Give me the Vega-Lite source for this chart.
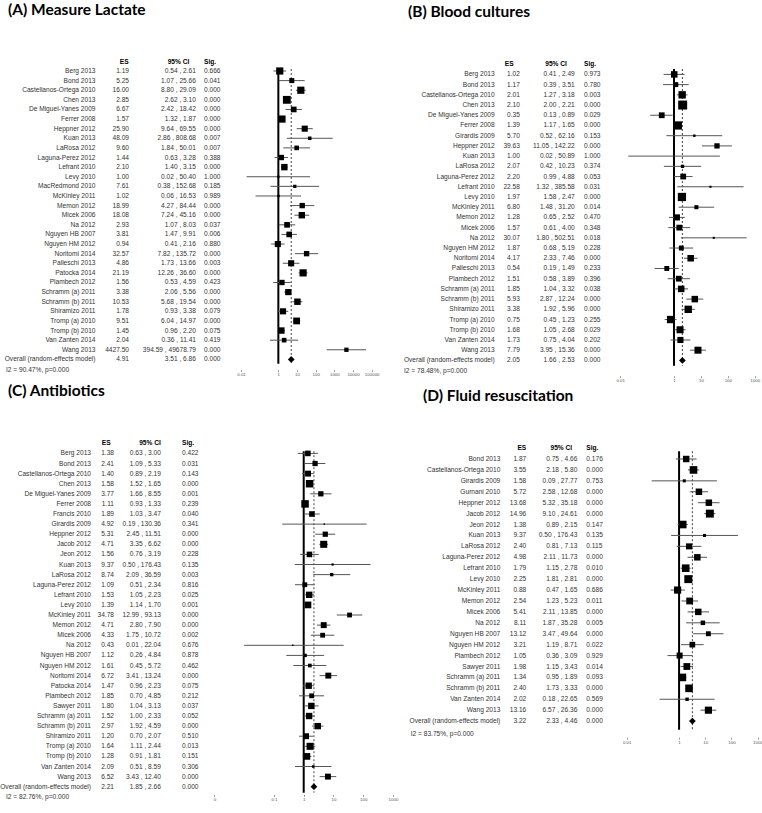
{
"$schema": "https://vega.github.io/schema/vega-lite/v6.json",
"padding": {"top": 3, "left": 0, "right": 0, "bottom": 0},
"background": "white",
"bounds": "flush",
"columns": 4,
"align": "each",
"spacing": {"row": 85.2, "column": 0},
"config": {
 "view": {"stroke": null},
 "text": {"font": "Liberation Sans", "fontSize": 6.6, "fill": "#333", "baseline": "middle"},
 "axis": {"domain": false, "grid": false, "title": null, "ticks": true, "tickSize": 2, "tickColor": "#999", "labelFont": "Liberation Sans", "labelFontSize": 4.4, "labelColor": "#555", "labelPadding": 1},
 "title": {"font": "Lato", "fontSize": 15.5, "fontWeight": "bold", "color": "black", "anchor": "start", "frame": "group", "offset": 40}
},
"datasets": {
 "head": [{"es": "ES", "ci": "95% CI", "sig": "Sig."}],
 "i2": [
  {"panel": "A", "text": "I2 = 90.47%, p=0.000"},
  {"panel": "B", "text": "I2 = 78.48%, p=0.000"},
  {"panel": "C", "text": "I2 = 82.76%, p=0.000"},
  {"panel": "D", "text": "I2 = 83.75%, p=0.000"}
 ],
 "nullref": [{"no_effect": 1}],
 "A": [
  {"study": "Berg 2013", "es": 1.19, "lo": 0.54, "hi": 2.61, "ci": "0.54 , 2.61", "p": 0.666, "w": 5.17, "kind": "study"},
  {"study": "Bond 2013", "es": 5.25, "lo": 1.07, "hi": 25.66, "ci": "1.07 , 25.66", "p": 0.041, "w": 2.53, "kind": "study"},
  {"study": "Castellanos-Ortega 2010", "es": 16.00, "lo": 8.80, "hi": 29.09, "ci": "8.80 , 29.09", "p": 0.000, "w": 5.17, "kind": "study"},
  {"study": "Chen 2013", "es": 2.85, "lo": 2.62, "hi": 3.10, "ci": "2.62 , 3.10", "p": 0.000, "w": 6.14, "kind": "study"},
  {"study": "De Miguel-Yanes 2009", "es": 6.67, "lo": 2.42, "hi": 18.42, "ci": "2.42 , 18.42", "p": 0.000, "w": 3.22, "kind": "study"},
  {"study": "Ferrer 2008", "es": 1.57, "lo": 1.32, "hi": 1.87, "ci": "1.32 , 1.87", "p": 0.000, "w": 5.17, "kind": "study"},
  {"study": "Heppner 2012", "es": 25.90, "lo": 9.64, "hi": 69.55, "ci": "9.64 , 69.55", "p": 0.000, "w": 3.74, "kind": "study"},
  {"study": "Kuan 2013", "es": 48.09, "lo": 2.86, "hi": 808.68, "ci": "2.86 , 808.68", "p": 0.007, "w": 1.25, "kind": "study"},
  {"study": "LaRosa 2012", "es": 9.60, "lo": 1.84, "hi": 50.01, "ci": "1.84 , 50.01", "p": 0.007, "w": 2.13, "kind": "study"},
  {"study": "Laguna-Perez 2012", "es": 1.44, "lo": 0.63, "hi": 3.28, "ci": "0.63 , 3.28", "p": 0.388, "w": 2.88, "kind": "study"},
  {"study": "Lefrant 2010", "es": 2.10, "lo": 1.40, "hi": 3.15, "ci": "1.40 , 3.15", "p": 0.000, "w": 4.14, "kind": "study"},
  {"study": "Levy 2010", "es": 1.00, "lo": 0.02, "hi": 50.40, "ci": "0.02 , 50.40", "p": 1.000, "w": 0.61, "kind": "study"},
  {"study": "MacRedmond 2010", "es": 7.61, "lo": 0.38, "hi": 152.68, "ci": "0.38 , 152.68", "p": 0.185, "w": 1.04, "kind": "study"},
  {"study": "McKinley 2011", "es": 1.02, "lo": 0.06, "hi": 16.53, "ci": "0.06 , 16.53", "p": 0.989, "w": 0.61, "kind": "study"},
  {"study": "Memon 2012", "es": 18.99, "lo": 4.27, "hi": 84.44, "ci": "4.27 , 84.44", "p": 0.000, "w": 2.88, "kind": "study"},
  {"study": "Micek 2006", "es": 18.08, "lo": 7.24, "hi": 45.16, "ci": "7.24 , 45.16", "p": 0.000, "w": 4.14, "kind": "study"},
  {"study": "Na 2012", "es": 2.93, "lo": 1.07, "hi": 8.03, "ci": "1.07 , 8.03", "p": 0.037, "w": 3.22, "kind": "study"},
  {"study": "Nguyen HB 2007", "es": 3.81, "lo": 1.47, "hi": 9.91, "ci": "1.47 , 9.91", "p": 0.006, "w": 3.22, "kind": "study"},
  {"study": "Nguyen HM 2012", "es": 0.94, "lo": 0.41, "hi": 2.16, "ci": "0.41 , 2.16", "p": 0.880, "w": 3.74, "kind": "study"},
  {"study": "Noritomi 2014", "es": 32.57, "lo": 7.82, "hi": 135.72, "ci": "7.82 , 135.72", "p": 0.000, "w": 2.88, "kind": "study"},
  {"study": "Palleschi 2013", "es": 4.86, "lo": 1.73, "hi": 13.66, "ci": "1.73 , 13.66", "p": 0.003, "w": 3.74, "kind": "study"},
  {"study": "Patocka 2014", "es": 21.19, "lo": 12.26, "hi": 36.60, "ci": "12.26 , 36.60", "p": 0.000, "w": 5.17, "kind": "study"},
  {"study": "Plambech 2012", "es": 1.56, "lo": 0.53, "hi": 4.59, "ci": "0.53 , 4.59", "p": 0.423, "w": 2.88, "kind": "study"},
  {"study": "Schramm (a) 2011", "es": 3.38, "lo": 2.06, "hi": 5.56, "ci": "2.06 , 5.56", "p": 0.000, "w": 3.74, "kind": "study"},
  {"study": "Schramm (b) 2011", "es": 10.53, "lo": 5.68, "hi": 19.54, "ci": "5.68 , 19.54", "p": 0.000, "w": 4.14, "kind": "study"},
  {"study": "Shiramizo 2011", "es": 1.78, "lo": 0.93, "hi": 3.38, "ci": "0.93 , 3.38", "p": 0.079, "w": 3.74, "kind": "study"},
  {"study": "Tromp (a) 2010", "es": 9.51, "lo": 6.04, "hi": 14.97, "ci": "6.04 , 14.97", "p": 0.000, "w": 4.57, "kind": "study"},
  {"study": "Tromp (b) 2010", "es": 1.45, "lo": 0.96, "hi": 2.20, "ci": "0.96 , 2.20", "p": 0.075, "w": 4.14, "kind": "study"},
  {"study": "Van Zanten 2014", "es": 2.04, "lo": 0.36, "hi": 11.41, "ci": "0.36 , 11.41", "p": 0.419, "w": 2.13, "kind": "study"},
  {"study": "Wang 2013", "es": 4427.50, "lo": 394.59, "hi": 49678.79, "ci": "394.59 , 49678.79", "p": 0.000, "w": 1.84, "kind": "study"},
  {"study": "Overall (random-effects model)", "es": 4.91, "lo": 3.51, "hi": 6.86, "ci": "3.51 , 6.86", "p": 0.000, "kind": "overall"}
 ],
 "B": [
  {"study": "Berg 2013", "es": 1.02, "lo": 0.41, "hi": 2.49, "ci": "0.41 , 2.49", "p": 0.973, "w": 4.24, "kind": "study"},
  {"study": "Bond 2013", "es": 1.17, "lo": 0.39, "hi": 3.51, "ci": "0.39 , 3.51", "p": 0.780, "w": 2.42, "kind": "study"},
  {"study": "Castellanos-Ortega 2010", "es": 2.01, "lo": 1.27, "hi": 3.18, "ci": "1.27 , 3.18", "p": 0.003, "w": 5.43, "kind": "study"},
  {"study": "Chen 2013", "es": 2.10, "lo": 2.00, "hi": 2.21, "ci": "2.00 , 2.21", "p": 0.000, "w": 8.05, "kind": "study"},
  {"study": "De Miguel-Yanes 2009", "es": 0.35, "lo": 0.13, "hi": 0.89, "ci": "0.13 , 0.89", "p": 0.029, "w": 3.34, "kind": "study"},
  {"study": "Ferrer 2008", "es": 1.39, "lo": 1.17, "hi": 1.65, "ci": "1.17 , 1.65", "p": 0.000, "w": 6.78, "kind": "study"},
  {"study": "Girardis 2009", "es": 5.70, "lo": 0.52, "hi": 62.16, "ci": "0.52 , 62.16", "p": 0.153, "w": 0.60, "kind": "study"},
  {"study": "Heppner 2012", "es": 39.63, "lo": 11.05, "hi": 142.22, "ci": "11.05 , 142.22", "p": 0.000, "w": 2.79, "kind": "study"},
  {"study": "Kuan 2013", "es": 1.00, "lo": 0.02, "hi": 50.89, "ci": "0.02 , 50.89", "p": 1.000, "w": 0.15, "kind": "study"},
  {"study": "LaRosa 2012", "es": 2.07, "lo": 0.42, "hi": 10.23, "ci": "0.42 , 10.23", "p": 0.374, "w": 1.10, "kind": "study"},
  {"study": "Laguna-Perez 2012", "es": 2.20, "lo": 0.99, "hi": 4.88, "ci": "0.99 , 4.88", "p": 0.053, "w": 3.34, "kind": "study"},
  {"study": "Lefrant 2010", "es": 22.58, "lo": 1.32, "hi": 385.58, "ci": "1.32 , 385.58", "p": 0.031, "w": 0.44, "kind": "study"},
  {"study": "Levy 2010", "es": 1.97, "lo": 1.58, "hi": 2.47, "ci": "1.58 , 2.47", "p": 0.000, "w": 6.78, "kind": "study"},
  {"study": "McKinley 2011", "es": 6.80, "lo": 1.48, "hi": 31.20, "ci": "1.48 , 31.20", "p": 0.014, "w": 1.65, "kind": "study"},
  {"study": "Memon 2012", "es": 1.28, "lo": 0.65, "hi": 2.52, "ci": "0.65 , 2.52", "p": 0.470, "w": 3.77, "kind": "study"},
  {"study": "Micek 2006", "es": 1.57, "lo": 0.61, "hi": 4.00, "ci": "0.61 , 4.00", "p": 0.348, "w": 3.34, "kind": "study"},
  {"study": "Na 2012", "es": 30.07, "lo": 1.80, "hi": 502.51, "ci": "1.80 , 502.51", "p": 0.018, "w": 0.44, "kind": "study"},
  {"study": "Nguyen HM 2012", "es": 1.87, "lo": 0.68, "hi": 5.19, "ci": "0.68 , 5.19", "p": 0.228, "w": 2.42, "kind": "study"},
  {"study": "Noritomi 2014", "es": 4.17, "lo": 2.33, "hi": 7.46, "ci": "2.33 , 7.46", "p": 0.000, "w": 4.24, "kind": "study"},
  {"study": "Palleschi 2013", "es": 0.54, "lo": 0.19, "hi": 1.49, "ci": "0.19 , 1.49", "p": 0.233, "w": 2.42, "kind": "study"},
  {"study": "Plambech 2012", "es": 1.51, "lo": 0.58, "hi": 3.89, "ci": "0.58 , 3.89", "p": 0.396, "w": 3.34, "kind": "study"},
  {"study": "Schramm (a) 2011", "es": 1.85, "lo": 1.04, "hi": 3.32, "ci": "1.04 , 3.32", "p": 0.038, "w": 4.24, "kind": "study"},
  {"study": "Schramm (b) 2011", "es": 5.93, "lo": 2.87, "hi": 12.24, "ci": "2.87 , 12.24", "p": 0.000, "w": 4.24, "kind": "study"},
  {"study": "Shiramizo 2011", "es": 3.38, "lo": 1.92, "hi": 5.96, "ci": "1.92 , 5.96", "p": 0.000, "w": 5.43, "kind": "study"},
  {"study": "Tromp (a) 2010", "es": 0.75, "lo": 0.45, "hi": 1.23, "ci": "0.45 , 1.23", "p": 0.255, "w": 5.43, "kind": "study"},
  {"study": "Tromp (b) 2010", "es": 1.68, "lo": 1.05, "hi": 2.68, "ci": "1.05 , 2.68", "p": 0.029, "w": 4.91, "kind": "study"},
  {"study": "Van Zanten 2014", "es": 1.73, "lo": 0.75, "hi": 4.04, "ci": "0.75 , 4.04", "p": 0.202, "w": 3.77, "kind": "study"},
  {"study": "Wang 2013", "es": 7.79, "lo": 3.95, "hi": 15.36, "ci": "3.95 , 15.36", "p": 0.000, "w": 4.91, "kind": "study"},
  {"study": "Overall (random-effects model)", "es": 2.05, "lo": 1.66, "hi": 2.53, "ci": "1.66 , 2.53", "p": 0.000, "kind": "overall"}
 ],
 "C": [
  {"study": "Berg 2013", "es": 1.38, "lo": 0.63, "hi": 3.00, "ci": "0.63 , 3.00", "p": 0.422, "w": 3.12, "kind": "study"},
  {"study": "Bond 2013", "es": 2.41, "lo": 1.09, "hi": 5.33, "ci": "1.09 , 5.33", "p": 0.031, "w": 2.76, "kind": "study"},
  {"study": "Castellanos-Ortega 2010", "es": 1.40, "lo": 0.89, "hi": 2.19, "ci": "0.89 , 2.19", "p": 0.143, "w": 3.51, "kind": "study"},
  {"study": "Chen 2013", "es": 1.58, "lo": 1.52, "hi": 1.65, "ci": "1.52 , 1.65", "p": 0.000, "w": 5.61, "kind": "study"},
  {"study": "De Miguel-Yanes 2009", "es": 3.77, "lo": 1.66, "hi": 8.55, "ci": "1.66 , 8.55", "p": 0.001, "w": 2.76, "kind": "study"},
  {"study": "Ferrer 2008", "es": 1.11, "lo": 0.93, "hi": 1.33, "ci": "0.93 , 1.33", "p": 0.239, "w": 5.61, "kind": "study"},
  {"study": "Francis 2010", "es": 1.89, "lo": 1.03, "hi": 3.47, "ci": "1.03 , 3.47", "p": 0.040, "w": 3.12, "kind": "study"},
  {"study": "Girardis 2009", "es": 4.92, "lo": 0.19, "hi": 130.36, "ci": "0.19 , 130.36", "p": 0.341, "w": 0.21, "kind": "study"},
  {"study": "Heppner 2012", "es": 5.31, "lo": 2.45, "hi": 11.51, "ci": "2.45 , 11.51", "p": 0.000, "w": 2.76, "kind": "study"},
  {"study": "Jacob 2012", "es": 4.71, "lo": 3.35, "hi": 6.62, "ci": "3.35 , 6.62", "p": 0.000, "w": 4.96, "kind": "study"},
  {"study": "Jeon 2012", "es": 1.56, "lo": 0.76, "hi": 3.19, "ci": "0.76 , 3.19", "p": 0.228, "w": 3.12, "kind": "study"},
  {"study": "Kuan 2013", "es": 9.37, "lo": 0.50, "hi": 176.43, "ci": "0.50 , 176.43", "p": 0.135, "w": 0.50, "kind": "study"},
  {"study": "LaRosa 2012", "es": 8.74, "lo": 2.09, "hi": 36.59, "ci": "2.09 , 36.59", "p": 0.003, "w": 1.12, "kind": "study"},
  {"study": "Laguna-Perez 2012", "es": 1.09, "lo": 0.51, "hi": 2.34, "ci": "0.51 , 2.34", "p": 0.816, "w": 2.31, "kind": "study"},
  {"study": "Lefrant 2010", "es": 1.53, "lo": 1.05, "hi": 2.23, "ci": "1.05 , 2.23", "p": 0.025, "w": 4.06, "kind": "study"},
  {"study": "Levy 2010", "es": 1.39, "lo": 1.14, "hi": 1.70, "ci": "1.14 , 1.70", "p": 0.001, "w": 4.49, "kind": "study"},
  {"study": "McKinley 2011", "es": 34.78, "lo": 12.99, "hi": 93.13, "ci": "12.99 , 93.13", "p": 0.000, "w": 2.31, "kind": "study"},
  {"study": "Memon 2012", "es": 4.71, "lo": 2.80, "hi": 7.90, "ci": "2.80 , 7.90", "p": 0.000, "w": 3.51, "kind": "study"},
  {"study": "Micek 2006", "es": 4.33, "lo": 1.75, "hi": 10.72, "ci": "1.75 , 10.72", "p": 0.002, "w": 2.31, "kind": "study"},
  {"study": "Na 2012", "es": 0.43, "lo": 0.01, "hi": 22.04, "ci": "0.01 , 22.04", "p": 0.676, "w": 0.21, "kind": "study"},
  {"study": "Nguyen HB 2007", "es": 1.12, "lo": 0.26, "hi": 4.84, "ci": "0.26 , 4.84", "p": 0.878, "w": 1.12, "kind": "study"},
  {"study": "Nguyen HM 2012", "es": 1.61, "lo": 0.45, "hi": 5.72, "ci": "0.45 , 5.72", "p": 0.462, "w": 1.36, "kind": "study"},
  {"study": "Noritomi 2014", "es": 6.72, "lo": 3.41, "hi": 13.24, "ci": "3.41 , 13.24", "p": 0.000, "w": 3.51, "kind": "study"},
  {"study": "Patocka 2014", "es": 1.47, "lo": 0.96, "hi": 2.23, "ci": "0.96 , 2.23", "p": 0.075, "w": 4.06, "kind": "study"},
  {"study": "Plambech 2012", "es": 1.85, "lo": 0.70, "hi": 4.85, "ci": "0.70 , 4.85", "p": 0.212, "w": 2.31, "kind": "study"},
  {"study": "Sawyer 2011", "es": 1.80, "lo": 1.04, "hi": 3.13, "ci": "1.04 , 3.13", "p": 0.037, "w": 4.06, "kind": "study"},
  {"study": "Schramm (a) 2011", "es": 1.52, "lo": 1.00, "hi": 2.33, "ci": "1.00 , 2.33", "p": 0.052, "w": 4.06, "kind": "study"},
  {"study": "Schramm (b) 2011", "es": 2.97, "lo": 1.92, "hi": 4.59, "ci": "1.92 , 4.59", "p": 0.000, "w": 4.06, "kind": "study"},
  {"study": "Shiramizo 2011", "es": 1.20, "lo": 0.70, "hi": 2.07, "ci": "0.70 , 2.07", "p": 0.510, "w": 3.51, "kind": "study"},
  {"study": "Tromp (a) 2010", "es": 1.64, "lo": 1.11, "hi": 2.44, "ci": "1.11 , 2.44", "p": 0.013, "w": 4.96, "kind": "study"},
  {"study": "Tromp (b) 2010", "es": 1.28, "lo": 0.91, "hi": 1.81, "ci": "0.91 , 1.81", "p": 0.151, "w": 4.49, "kind": "study"},
  {"study": "Van Zanten 2014", "es": 2.09, "lo": 0.51, "hi": 8.59, "ci": "0.51 , 8.59", "p": 0.306, "w": 0.66, "kind": "study"},
  {"study": "Wang 2013", "es": 6.52, "lo": 3.43, "hi": 12.40, "ci": "3.43 , 12.40", "p": 0.000, "w": 3.51, "kind": "study"},
  {"study": "Overall (random-effects model)", "es": 2.21, "lo": 1.85, "hi": 2.66, "ci": "1.85 , 2.66", "p": 0.000, "kind": "overall"}
 ],
 "D": [
  {"study": "Bond 2013", "es": 1.87, "lo": 0.75, "hi": 4.66, "ci": "0.75 , 4.66", "p": 0.176, "w": 4.19, "kind": "study"},
  {"study": "Castellanos-Ortega 2010", "es": 3.55, "lo": 2.18, "hi": 5.80, "ci": "2.18 , 5.80", "p": 0.000, "w": 5.79, "kind": "study"},
  {"study": "Girardis 2009", "es": 1.58, "lo": 0.09, "hi": 27.77, "ci": "0.09 , 27.77", "p": 0.753, "w": 0.94, "kind": "study"},
  {"study": "Gurnani 2010", "es": 5.72, "lo": 2.58, "hi": 12.68, "ci": "2.58 , 12.68", "p": 0.000, "w": 4.19, "kind": "study"},
  {"study": "Heppner 2012", "es": 13.68, "lo": 5.32, "hi": 35.18, "ci": "5.32 , 35.18", "p": 0.000, "w": 4.19, "kind": "study"},
  {"study": "Jacob 2012", "es": 14.96, "lo": 9.10, "hi": 24.61, "ci": "9.10 , 24.61", "p": 0.000, "w": 6.32, "kind": "study"},
  {"study": "Jeon 2012", "es": 1.38, "lo": 0.89, "hi": 2.15, "ci": "0.89 , 2.15", "p": 0.147, "w": 5.79, "kind": "study"},
  {"study": "Kuan 2013", "es": 9.37, "lo": 0.50, "hi": 176.43, "ci": "0.50 , 176.43", "p": 0.135, "w": 0.94, "kind": "study"},
  {"study": "LaRosa 2012", "es": 2.40, "lo": 0.81, "hi": 7.13, "ci": "0.81 , 7.13", "p": 0.115, "w": 3.62, "kind": "study"},
  {"study": "Laguna-Perez 2012", "es": 4.98, "lo": 2.11, "hi": 11.73, "ci": "2.11 , 11.73", "p": 0.000, "w": 4.19, "kind": "study"},
  {"study": "Lefrant 2010", "es": 1.79, "lo": 1.15, "hi": 2.78, "ci": "1.15 , 2.78", "p": 0.010, "w": 5.79, "kind": "study"},
  {"study": "Levy 2010", "es": 2.25, "lo": 1.81, "hi": 2.81, "ci": "1.81 , 2.81", "p": 0.000, "w": 6.32, "kind": "study"},
  {"study": "McKinley 2011", "es": 0.88, "lo": 0.47, "hi": 1.65, "ci": "0.47 , 1.65", "p": 0.686, "w": 5.12, "kind": "study"},
  {"study": "Memon 2012", "es": 2.54, "lo": 1.23, "hi": 5.23, "ci": "1.23 , 5.23", "p": 0.011, "w": 4.64, "kind": "study"},
  {"study": "Micek 2006", "es": 5.41, "lo": 2.11, "hi": 13.85, "ci": "2.11 , 13.85", "p": 0.000, "w": 4.19, "kind": "study"},
  {"study": "Na 2012", "es": 8.11, "lo": 1.87, "hi": 35.28, "ci": "1.87 , 35.28", "p": 0.005, "w": 2.06, "kind": "study"},
  {"study": "Nguyen HB 2007", "es": 13.12, "lo": 3.47, "hi": 49.64, "ci": "3.47 , 49.64", "p": 0.000, "w": 2.38, "kind": "study"},
  {"study": "Nguyen HM 2012", "es": 3.21, "lo": 1.19, "hi": 8.71, "ci": "1.19 , 8.71", "p": 0.022, "w": 3.22, "kind": "study"},
  {"study": "Plambech 2012", "es": 1.05, "lo": 0.36, "hi": 3.09, "ci": "0.36 , 3.09", "p": 0.929, "w": 3.62, "kind": "study"},
  {"study": "Sawyer 2011", "es": 1.98, "lo": 1.15, "hi": 3.43, "ci": "1.15 , 3.43", "p": 0.014, "w": 4.64, "kind": "study"},
  {"study": "Schramm (a) 2011", "es": 1.34, "lo": 0.95, "hi": 1.89, "ci": "0.95 , 1.89", "p": 0.093, "w": 5.79, "kind": "study"},
  {"study": "Schramm (b) 2011", "es": 2.40, "lo": 1.73, "hi": 3.33, "ci": "1.73 , 3.33", "p": 0.000, "w": 5.79, "kind": "study"},
  {"study": "Van Zanten 2014", "es": 2.02, "lo": 0.18, "hi": 22.65, "ci": "0.18 , 22.65", "p": 0.569, "w": 1.16, "kind": "study"},
  {"study": "Wang 2013", "es": 13.16, "lo": 6.57, "hi": 26.36, "ci": "6.57 , 26.36", "p": 0.000, "w": 5.12, "kind": "study"},
  {"study": "Overall (random-effects model)", "es": 3.22, "lo": 2.33, "hi": 4.46, "ci": "2.33 , 4.46", "p": 0.000, "kind": "overall"}
 ]
},
"concat": [
 {
  "width": 205, "height": 294.7,
  "title": {"text": "(A) Measure Lactate", "dx": 5},
  "data": {"name": "A"},
  "encoding": {
   "y": {"field": "study", "type": "nominal", "axis": null, "scale": {"type": "point", "round": false, "padding": 0.328, "align": 0.317, "domain": ["Berg 2013","Bond 2013","Castellanos-Ortega 2010","Chen 2013","De Miguel-Yanes 2009","Ferrer 2008","Heppner 2012","Kuan 2013","LaRosa 2012","Laguna-Perez 2012","Lefrant 2010","Levy 2010","MacRedmond 2010","McKinley 2011","Memon 2012","Micek 2006","Na 2012","Nguyen HB 2007","Nguyen HM 2012","Noritomi 2014","Palleschi 2013","Patocka 2014","Plambech 2012","Schramm (a) 2011","Schramm (b) 2011","Shiramizo 2011","Tromp (a) 2010","Tromp (b) 2010","Van Zanten 2014","Wang 2013","Overall (random-effects model)"]}},
   "x": {"datum": "name", "type": "nominal", "axis": null, "scale": {"type": "point", "round": false, "padding": 0, "domain": ["name", "ES", "CI", "Sig"]}}
  },
  "layer": [
   {"mark": {"type": "text", "align": "right", "dx": 92.5}, "encoding": {"text": {"field": "study"}}},
   {"mark": {"type": "text", "align": "right", "dx": 57.7}, "encoding": {"x": {"datum": "ES", "type": "nominal"}, "text": {"field": "es", "type": "quantitative", "format": ".2f"}}},
   {"mark": {"type": "text", "align": "right", "dx": 56.3}, "encoding": {"x": {"datum": "CI", "type": "nominal"}, "text": {"field": "ci"}}},
   {"mark": {"type": "text", "align": "left", "dx": -4}, "encoding": {"x": {"datum": "Sig", "type": "nominal"}, "text": {"field": "p", "type": "quantitative", "format": ".3f"}}},
   {"data": {"name": "head"}, "mark": {"type": "text", "align": "right", "dx": 57.2, "dy": -9.3, "fontWeight": "bold", "fill": "black"}, "encoding": {"x": {"datum": "ES", "type": "nominal"}, "y": {"datum": "Berg 2013", "type": "nominal"}, "text": {"field": "es"}}},
   {"data": {"name": "head"}, "mark": {"type": "text", "align": "center", "dx": 38.8, "dy": -9.3, "fontWeight": "bold", "fill": "black"}, "encoding": {"x": {"datum": "CI", "type": "nominal"}, "y": {"datum": "Berg 2013", "type": "nominal"}, "text": {"field": "ci"}}},
   {"data": {"name": "head"}, "mark": {"type": "text", "align": "left", "dx": -4, "dy": -9.3, "fontWeight": "bold", "fill": "black"}, "encoding": {"x": {"datum": "Sig", "type": "nominal"}, "y": {"datum": "Berg 2013", "type": "nominal"}, "text": {"field": "sig"}}},
   {"data": {"name": "i2"}, "transform": [{"filter": "datum.panel === 'A'"}], "mark": {"type": "text", "align": "left", "dx": 3, "dy": 10.3}, "encoding": {"y": {"datum": "Overall (random-effects model)", "type": "nominal"}, "text": {"field": "text"}}}
  ]
 },
 {
  "width": 187, "height": 294.7,
  "data": {"name": "A"},
  "layer": [
   {"data": {"name": "nullref"}, "mark": {"type": "rule", "color": "black", "strokeWidth": 2}, "encoding": {"x": {"field": "no_effect", "type": "quantitative", "scale": {"type": "log", "nice": false, "domain": [0.0001708, 1772000]}, "axis": {"values": [0.01, 1, 10, 100, 1000, 10000, 100000], "format": ".2~f", "offset": 6}}}},
   {"transform": [{"filter": "datum.kind === 'overall'"}], "mark": {"type": "rule", "color": "#444", "strokeWidth": 1, "strokeDash": [2, 2]}, "encoding": {"x": {"field": "es", "type": "quantitative"}}},
   {"transform": [{"filter": "datum.kind === 'study'"}], "mark": {"type": "rule", "color": "#555", "strokeWidth": 1}, "encoding": {"x": {"field": "lo", "type": "quantitative"}, "x2": {"field": "hi"}, "y": {"field": "study", "type": "nominal", "axis": null, "scale": {"type": "point", "round": false, "padding": 0.328, "align": 0.317, "domain": ["Berg 2013","Bond 2013","Castellanos-Ortega 2010","Chen 2013","De Miguel-Yanes 2009","Ferrer 2008","Heppner 2012","Kuan 2013","LaRosa 2012","Laguna-Perez 2012","Lefrant 2010","Levy 2010","MacRedmond 2010","McKinley 2011","Memon 2012","Micek 2006","Na 2012","Nguyen HB 2007","Nguyen HM 2012","Noritomi 2014","Palleschi 2013","Patocka 2014","Plambech 2012","Schramm (a) 2011","Schramm (b) 2011","Shiramizo 2011","Tromp (a) 2010","Tromp (b) 2010","Van Zanten 2014","Wang 2013","Overall (random-effects model)"]}}}},
   {"transform": [{"filter": "datum.kind === 'study'"}], "mark": {"type": "point", "shape": "square", "filled": true, "color": "black", "opacity": 1}, "encoding": {"x": {"field": "es", "type": "quantitative"}, "y": {"field": "study", "type": "nominal"}, "size": {"field": "w", "type": "quantitative", "legend": null, "scale": {"domain": [0, 10], "range": [0, 100]}}}},
   {"transform": [{"filter": "datum.kind === 'overall'"}], "mark": {"type": "point", "shape": "diamond", "filled": true, "color": "black", "opacity": 1, "size": 45}, "encoding": {"x": {"field": "es", "type": "quantitative"}, "y": {"field": "study", "type": "nominal"}}}
  ]
 },
 {
  "width": 218, "height": 296.7,
  "title": {"text": "(B) Blood cultures", "dx": 13},
  "data": {"name": "B"},
  "encoding": {
   "y": {"field": "study", "type": "nominal", "axis": null, "scale": {"type": "point", "round": false, "padding": 0.524, "align": 0.505, "domain": ["Berg 2013","Bond 2013","Castellanos-Ortega 2010","Chen 2013","De Miguel-Yanes 2009","Ferrer 2008","Girardis 2009","Heppner 2012","Kuan 2013","LaRosa 2012","Laguna-Perez 2012","Lefrant 2010","Levy 2010","McKinley 2011","Memon 2012","Micek 2006","Na 2012","Nguyen HM 2012","Noritomi 2014","Palleschi 2013","Plambech 2012","Schramm (a) 2011","Schramm (b) 2011","Shiramizo 2011","Tromp (a) 2010","Tromp (b) 2010","Van Zanten 2014","Wang 2013","Overall (random-effects model)"]}},
   "x": {"datum": "name", "type": "nominal", "axis": null, "scale": {"type": "point", "round": false, "padding": 0, "domain": ["name", "ES", "CI", "Sig"]}}
  },
  "layer": [
   {"mark": {"type": "text", "align": "right", "dx": 99.7}, "encoding": {"text": {"field": "study"}}},
   {"mark": {"type": "text", "align": "right", "dx": 52.3}, "encoding": {"x": {"datum": "ES", "type": "nominal"}, "text": {"field": "es", "type": "quantitative", "format": ".2f"}}},
   {"mark": {"type": "text", "align": "right", "dx": 34.4}, "encoding": {"x": {"datum": "CI", "type": "nominal"}, "text": {"field": "ci"}}},
   {"mark": {"type": "text", "align": "left", "dx": -29}, "encoding": {"x": {"datum": "Sig", "type": "nominal"}, "text": {"field": "p", "type": "quantitative", "format": ".3f"}}},
   {"data": {"name": "head"}, "mark": {"type": "text", "align": "right", "dx": 46, "dy": -10.7, "fontWeight": "bold", "fill": "black"}, "encoding": {"x": {"datum": "ES", "type": "nominal"}, "y": {"datum": "Berg 2013", "type": "nominal"}, "text": {"field": "es"}}},
   {"data": {"name": "head"}, "mark": {"type": "text", "align": "center", "dx": 15.7, "dy": -10.7, "fontWeight": "bold", "fill": "black"}, "encoding": {"x": {"datum": "CI", "type": "nominal"}, "y": {"datum": "Berg 2013", "type": "nominal"}, "text": {"field": "ci"}}},
   {"data": {"name": "head"}, "mark": {"type": "text", "align": "left", "dx": -29, "dy": -10.7, "fontWeight": "bold", "fill": "black"}, "encoding": {"x": {"datum": "Sig", "type": "nominal"}, "y": {"datum": "Berg 2013", "type": "nominal"}, "text": {"field": "sig"}}},
   {"data": {"name": "i2"}, "transform": [{"filter": "datum.panel === 'B'"}], "mark": {"type": "text", "align": "left", "dx": 9, "dy": 10.3}, "encoding": {"y": {"datum": "Overall (random-effects model)", "type": "nominal"}, "text": {"field": "text"}}}
  ]
 },
 {
  "width": 152, "height": 296.7,
  "data": {"name": "B"},
  "layer": [
   {"data": {"name": "nullref"}, "mark": {"type": "rule", "color": "black", "strokeWidth": 2}, "encoding": {"x": {"field": "no_effect", "type": "quantitative", "scale": {"type": "log", "nice": false, "domain": [0.005399, 2415]}, "axis": {"values": [0.01, 1, 10, 100, 1000], "format": ".2~f", "offset": 10}}}},
   {"transform": [{"filter": "datum.kind === 'overall'"}], "mark": {"type": "rule", "color": "#444", "strokeWidth": 1, "strokeDash": [2, 2]}, "encoding": {"x": {"field": "es", "type": "quantitative"}}},
   {"transform": [{"filter": "datum.kind === 'study'"}], "mark": {"type": "rule", "color": "#555", "strokeWidth": 1}, "encoding": {"x": {"field": "lo", "type": "quantitative"}, "x2": {"field": "hi"}, "y": {"field": "study", "type": "nominal", "axis": null, "scale": {"type": "point", "round": false, "padding": 0.524, "align": 0.505, "domain": ["Berg 2013","Bond 2013","Castellanos-Ortega 2010","Chen 2013","De Miguel-Yanes 2009","Ferrer 2008","Girardis 2009","Heppner 2012","Kuan 2013","LaRosa 2012","Laguna-Perez 2012","Lefrant 2010","Levy 2010","McKinley 2011","Memon 2012","Micek 2006","Na 2012","Nguyen HM 2012","Noritomi 2014","Palleschi 2013","Plambech 2012","Schramm (a) 2011","Schramm (b) 2011","Shiramizo 2011","Tromp (a) 2010","Tromp (b) 2010","Van Zanten 2014","Wang 2013","Overall (random-effects model)"]}}}},
   {"transform": [{"filter": "datum.kind === 'study'"}], "mark": {"type": "point", "shape": "square", "filled": true, "color": "black", "opacity": 1}, "encoding": {"x": {"field": "es", "type": "quantitative"}, "y": {"field": "study", "type": "nominal"}, "size": {"field": "w", "type": "quantitative", "legend": null, "scale": {"domain": [0, 10], "range": [0, 76]}}}},
   {"transform": [{"filter": "datum.kind === 'overall'"}], "mark": {"type": "point", "shape": "diamond", "filled": true, "color": "black", "opacity": 1, "size": 45}, "encoding": {"x": {"field": "es", "type": "quantitative"}, "y": {"field": "study", "type": "nominal"}}}
  ]
 },
 {
  "width": 205, "height": 341.5,
  "title": {"text": "(C) Antibiotics", "dx": 5},
  "data": {"name": "C"},
  "encoding": {
   "y": {"field": "study", "type": "nominal", "axis": null, "scale": {"type": "point", "round": false, "padding": 0.406, "align": 0.27, "domain": ["Berg 2013","Bond 2013","Castellanos-Ortega 2010","Chen 2013","De Miguel-Yanes 2009","Ferrer 2008","Francis 2010","Girardis 2009","Heppner 2012","Jacob 2012","Jeon 2012","Kuan 2013","LaRosa 2012","Laguna-Perez 2012","Lefrant 2010","Levy 2010","McKinley 2011","Memon 2012","Micek 2006","Na 2012","Nguyen HB 2007","Nguyen HM 2012","Noritomi 2014","Patocka 2014","Plambech 2012","Sawyer 2011","Schramm (a) 2011","Schramm (b) 2011","Shiramizo 2011","Tromp (a) 2010","Tromp (b) 2010","Van Zanten 2014","Wang 2013","Overall (random-effects model)"]}},
   "x": {"datum": "name", "type": "nominal", "axis": null, "scale": {"type": "point", "round": false, "padding": 0, "domain": ["name", "ES", "CI", "Sig"]}}
  },
  "layer": [
   {"mark": {"type": "text", "align": "right", "dx": 88}, "encoding": {"text": {"field": "study"}}},
   {"mark": {"type": "text", "align": "right", "dx": 42.7}, "encoding": {"x": {"datum": "ES", "type": "nominal"}, "text": {"field": "es", "type": "quantitative", "format": ".2f"}}},
   {"mark": {"type": "text", "align": "right", "dx": 21.3}, "encoding": {"x": {"datum": "CI", "type": "nominal"}, "text": {"field": "ci"}}},
   {"mark": {"type": "text", "align": "left", "dx": -26}, "encoding": {"x": {"datum": "Sig", "type": "nominal"}, "text": {"field": "p", "type": "quantitative", "format": ".3f"}}},
   {"data": {"name": "head"}, "mark": {"type": "text", "align": "right", "dx": 39.2, "dy": -10.7, "fontWeight": "bold", "fill": "black"}, "encoding": {"x": {"datum": "ES", "type": "nominal"}, "y": {"datum": "Berg 2013", "type": "nominal"}, "text": {"field": "es"}}},
   {"data": {"name": "head"}, "mark": {"type": "text", "align": "center", "dx": 10.3, "dy": -10.7, "fontWeight": "bold", "fill": "black"}, "encoding": {"x": {"datum": "CI", "type": "nominal"}, "y": {"datum": "Berg 2013", "type": "nominal"}, "text": {"field": "ci"}}},
   {"data": {"name": "head"}, "mark": {"type": "text", "align": "left", "dx": -26, "dy": -10.7, "fontWeight": "bold", "fill": "black"}, "encoding": {"x": {"datum": "Sig", "type": "nominal"}, "y": {"datum": "Berg 2013", "type": "nominal"}, "text": {"field": "sig"}}},
   {"data": {"name": "i2"}, "transform": [{"filter": "datum.panel === 'C'"}], "mark": {"type": "text", "align": "left", "dx": 3, "dy": 10}, "encoding": {"y": {"datum": "Overall (random-effects model)", "type": "nominal"}, "text": {"field": "text"}}}
  ]
 },
 {
  "width": 187, "height": 341.5,
  "data": {"name": "C"},
  "layer": [
   {"data": {"name": "nullref"}, "mark": {"type": "rule", "color": "black", "strokeWidth": 2}, "encoding": {"x": {"field": "no_effect", "type": "quantitative", "scale": {"type": "log", "nice": false, "domain": [0.0006068, 1172]}, "axis": {"values": [0.001, 0.1, 1, 10, 100, 1000], "format": ".2~f", "offset": 1.75}}}},
   {"transform": [{"filter": "datum.kind === 'overall'"}], "mark": {"type": "rule", "color": "#444", "strokeWidth": 1, "strokeDash": [2, 2]}, "encoding": {"x": {"field": "es", "type": "quantitative"}}},
   {"transform": [{"filter": "datum.kind === 'study'"}], "mark": {"type": "rule", "color": "#555", "strokeWidth": 1}, "encoding": {"x": {"field": "lo", "type": "quantitative"}, "x2": {"field": "hi"}, "y": {"field": "study", "type": "nominal", "axis": null, "scale": {"type": "point", "round": false, "padding": 0.406, "align": 0.27, "domain": ["Berg 2013","Bond 2013","Castellanos-Ortega 2010","Chen 2013","De Miguel-Yanes 2009","Ferrer 2008","Francis 2010","Girardis 2009","Heppner 2012","Jacob 2012","Jeon 2012","Kuan 2013","LaRosa 2012","Laguna-Perez 2012","Lefrant 2010","Levy 2010","McKinley 2011","Memon 2012","Micek 2006","Na 2012","Nguyen HB 2007","Nguyen HM 2012","Noritomi 2014","Patocka 2014","Plambech 2012","Sawyer 2011","Schramm (a) 2011","Schramm (b) 2011","Shiramizo 2011","Tromp (a) 2010","Tromp (b) 2010","Van Zanten 2014","Wang 2013","Overall (random-effects model)"]}}}},
   {"transform": [{"filter": "datum.kind === 'study'"}], "mark": {"type": "point", "shape": "square", "filled": true, "color": "black", "opacity": 1}, "encoding": {"x": {"field": "es", "type": "quantitative"}, "y": {"field": "study", "type": "nominal"}, "size": {"field": "w", "type": "quantitative", "legend": null, "scale": {"domain": [0, 10], "range": [0, 92]}}}},
   {"transform": [{"filter": "datum.kind === 'overall'"}], "mark": {"type": "point", "shape": "diamond", "filled": true, "color": "black", "opacity": 1, "size": 45}, "encoding": {"x": {"field": "es", "type": "quantitative"}, "y": {"field": "study", "type": "nominal"}}}
  ]
 },
 {
  "width": 218, "height": 278.5,
  "title": {"text": "(D) Fluid resuscitation", "dx": 28},
  "data": {"name": "D"},
  "encoding": {
   "y": {"field": "study", "type": "nominal", "axis": null, "scale": {"type": "point", "round": false, "padding": 0.751, "align": 0.476, "domain": ["Bond 2013","Castellanos-Ortega 2010","Girardis 2009","Gurnani 2010","Heppner 2012","Jacob 2012","Jeon 2012","Kuan 2013","LaRosa 2012","Laguna-Perez 2012","Lefrant 2010","Levy 2010","McKinley 2011","Memon 2012","Micek 2006","Na 2012","Nguyen HB 2007","Nguyen HM 2012","Plambech 2012","Sawyer 2011","Schramm (a) 2011","Schramm (b) 2011","Van Zanten 2014","Wang 2013","Overall (random-effects model)"]}},
   "x": {"datum": "name", "type": "nominal", "axis": null, "scale": {"type": "point", "round": false, "padding": 0, "domain": ["name", "ES", "CI", "Sig"]}}
  },
  "layer": [
   {"mark": {"type": "text", "align": "right", "dx": 105.3}, "encoding": {"text": {"field": "study"}}},
   {"mark": {"type": "text", "align": "right", "dx": 58.6}, "encoding": {"x": {"datum": "ES", "type": "nominal"}, "text": {"field": "es", "type": "quantitative", "format": ".2f"}}},
   {"mark": {"type": "text", "align": "right", "dx": 37}, "encoding": {"x": {"datum": "CI", "type": "nominal"}, "text": {"field": "ci"}}},
   {"mark": {"type": "text", "align": "left", "dx": -26.7}, "encoding": {"x": {"datum": "Sig", "type": "nominal"}, "text": {"field": "p", "type": "quantitative", "format": ".3f"}}},
   {"data": {"name": "head"}, "mark": {"type": "text", "align": "right", "dx": 58.6, "dy": -11.3, "fontWeight": "bold", "fill": "black"}, "encoding": {"x": {"datum": "ES", "type": "nominal"}, "y": {"datum": "Bond 2013", "type": "nominal"}, "text": {"field": "es"}}},
   {"data": {"name": "head"}, "mark": {"type": "text", "align": "center", "dx": 21, "dy": -11.3, "fontWeight": "bold", "fill": "black"}, "encoding": {"x": {"datum": "CI", "type": "nominal"}, "y": {"datum": "Bond 2013", "type": "nominal"}, "text": {"field": "ci"}}},
   {"data": {"name": "head"}, "mark": {"type": "text", "align": "left", "dx": -26.7, "dy": -11.3, "fontWeight": "bold", "fill": "black"}, "encoding": {"x": {"datum": "Sig", "type": "nominal"}, "y": {"datum": "Bond 2013", "type": "nominal"}, "text": {"field": "sig"}}},
   {"data": {"name": "i2"}, "transform": [{"filter": "datum.panel === 'D'"}], "mark": {"type": "text", "align": "left", "dx": 15.7, "dy": 12.4}, "encoding": {"y": {"datum": "Overall (random-effects model)", "type": "nominal"}, "text": {"field": "text"}}}
  ]
 },
 {
  "width": 152, "height": 278.5,
  "data": {"name": "D"},
  "layer": [
   {"data": {"name": "nullref"}, "mark": {"type": "rule", "color": "black", "strokeWidth": 2}, "encoding": {"x": {"field": "no_effect", "type": "quantitative", "scale": {"type": "log", "nice": false, "domain": [0.003013, 1900]}, "axis": {"values": [0.01, 1, 10, 100, 1000], "format": ".2~f", "offset": 7.4}}}},
   {"transform": [{"filter": "datum.kind === 'overall'"}], "mark": {"type": "rule", "color": "#444", "strokeWidth": 1, "strokeDash": [2, 2]}, "encoding": {"x": {"field": "es", "type": "quantitative"}}},
   {"transform": [{"filter": "datum.kind === 'study'"}], "mark": {"type": "rule", "color": "#555", "strokeWidth": 1}, "encoding": {"x": {"field": "lo", "type": "quantitative"}, "x2": {"field": "hi"}, "y": {"field": "study", "type": "nominal", "axis": null, "scale": {"type": "point", "round": false, "padding": 0.751, "align": 0.476, "domain": ["Bond 2013","Castellanos-Ortega 2010","Girardis 2009","Gurnani 2010","Heppner 2012","Jacob 2012","Jeon 2012","Kuan 2013","LaRosa 2012","Laguna-Perez 2012","Lefrant 2010","Levy 2010","McKinley 2011","Memon 2012","Micek 2006","Na 2012","Nguyen HB 2007","Nguyen HM 2012","Plambech 2012","Sawyer 2011","Schramm (a) 2011","Schramm (b) 2011","Van Zanten 2014","Wang 2013","Overall (random-effects model)"]}}}},
   {"transform": [{"filter": "datum.kind === 'study'"}], "mark": {"type": "point", "shape": "square", "filled": true, "color": "black", "opacity": 1}, "encoding": {"x": {"field": "es", "type": "quantitative"}, "y": {"field": "study", "type": "nominal"}, "size": {"field": "w", "type": "quantitative", "legend": null, "scale": {"domain": [0, 10], "range": [0, 89]}}}},
   {"transform": [{"filter": "datum.kind === 'overall'"}], "mark": {"type": "point", "shape": "diamond", "filled": true, "color": "black", "opacity": 1, "size": 45}, "encoding": {"x": {"field": "es", "type": "quantitative"}, "y": {"field": "study", "type": "nominal"}}}
  ]
 }
]
}
